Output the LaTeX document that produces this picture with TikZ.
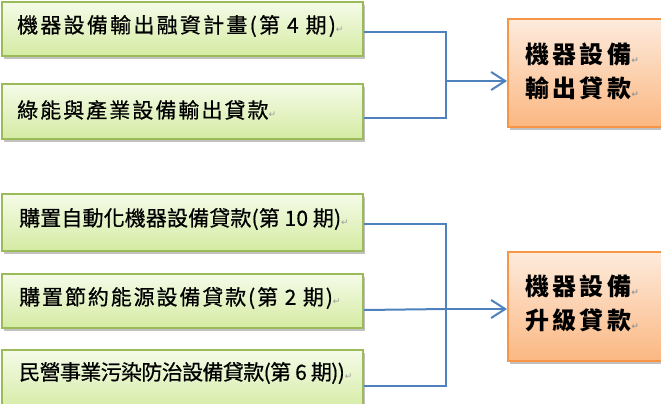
\documentclass[tikz,border=0pt]{standalone}
\usepackage{fontspec}
\newfontfamily\cjk{Noto Sans CJK TC}
\newfontfamily\dv{DejaVu Sans}
\usetikzlibrary{arrows.meta,shadows,calc}
\definecolor{gborder}{HTML}{9BBB59}
\definecolor{gtop}{HTML}{F5FBE8}
\definecolor{gbot}{HTML}{D4EBA2}
\definecolor{oborder}{HTML}{F79646}
\definecolor{otop}{HTML}{FDEBDD}
\definecolor{obot}{HTML}{FBB781}
\definecolor{connc}{HTML}{4F81BD}
\newcommand\pmark{{\dv\fontsize{9}{9}\selectfont\color{black!40}↵}}
\begin{document}
\begin{tikzpicture}[x=1pt,y=-1pt,
  gbox/.style={draw=gborder, line width=2pt, top color=gtop, bottom color=gbot,
    drop shadow={shadow xshift=2pt,shadow yshift=-3pt,opacity=0.35,fill=black!70},
    anchor=north west, inner sep=0pt, minimum width=361pt},
  obox/.style={draw=oborder, line width=2.4pt, top color=otop, bottom color=obot,
    drop shadow={shadow xshift=2pt,shadow yshift=-3pt,opacity=0.35,fill=black!70},
    anchor=north west, inner sep=0pt, minimum width=200pt},
  gt/.style={font=\cjk\fontsize{21}{21}\selectfont\addfontfeature{FakeBold=0.6}, inner sep=0pt, anchor=west},
  ot/.style={font=\cjk\bfseries\fontsize{24}{34}\selectfont, inner sep=0pt, anchor=west, align=left},
  cline/.style={draw=connc, line width=2pt},
  arr/.style={-{Straight Barb[length=14pt,width=18pt,line width=2pt]}}
]
\useasboundingbox (0,0) rectangle (661,404);
\clip (0,0) rectangle (661,404);
% green boxes
\node[gbox, minimum height=54pt] (b1) at (1,1) {};
\node[gbox, minimum height=55pt] (b2) at (1,83) {};
\node[gbox, minimum height=57pt] (b3) at (1,193) {};
\node[gbox, minimum height=54pt] (b4) at (1,273) {};
\node[gbox, minimum height=62pt] (b5) at (1,349) {};
% orange boxes
\node[obox, minimum height=108pt] (o1) at (507,18) {};
\node[obox, minimum height=109pt] (o2) at (507,251) {};
% texts
\node[gt] (t1) at (17,26) {\addfontfeature{LetterSpace=10.7}機器設備輸出融資計畫(第 4 期)\pmark};
\node[gt] (t2) at (17,110) {\addfontfeature{LetterSpace=9.7}綠能與產業設備輸出貸款\pmark};
\node[gt] (t3) at (19,219) {\addfontfeature{LetterSpace=0.6}購置自動化機器設備貸款(第 10 期)\pmark};
\node[gt] (t4) at (19,298) {\addfontfeature{LetterSpace=9}購置節約能源設備貸款(第 2 期)\pmark};
\node[gt] (t5) at (19,373) {\addfontfeature{LetterSpace=-3}民營事業污染防治設備貸款(第 6 期))\pmark};
\node[ot] (u1) at (525,71) {\addfontfeature{LetterSpace=14}機器設備\pmark\\\addfontfeature{LetterSpace=14}輸出貸款\pmark};
\node[ot] (u2) at (525,303) {\addfontfeature{LetterSpace=14}機器設備\pmark\\\addfontfeature{LetterSpace=14}升級貸款\pmark};
% connectors
\coordinate (j1) at (446,81);
\coordinate (j2) at (446,309);
\draw[cline] ([yshift=-3pt]b1.east) -| (j1);
\draw[cline] ([yshift=-6.5pt]b2.east) -| (j1);
\draw[cline, arr] (j1) -- (j1 -| o1.west);
\draw[cline] ([yshift=-1.5pt]b3.east) -| (j2);
\draw[cline] ([yshift=-4.5pt]b5.east) -| (j2);
\draw[cline] ([yshift=-9pt]b4.east) -- (j2);
\draw[cline, arr] (j2) -- (j2 -| o2.west);
\end{tikzpicture}
\end{document}
